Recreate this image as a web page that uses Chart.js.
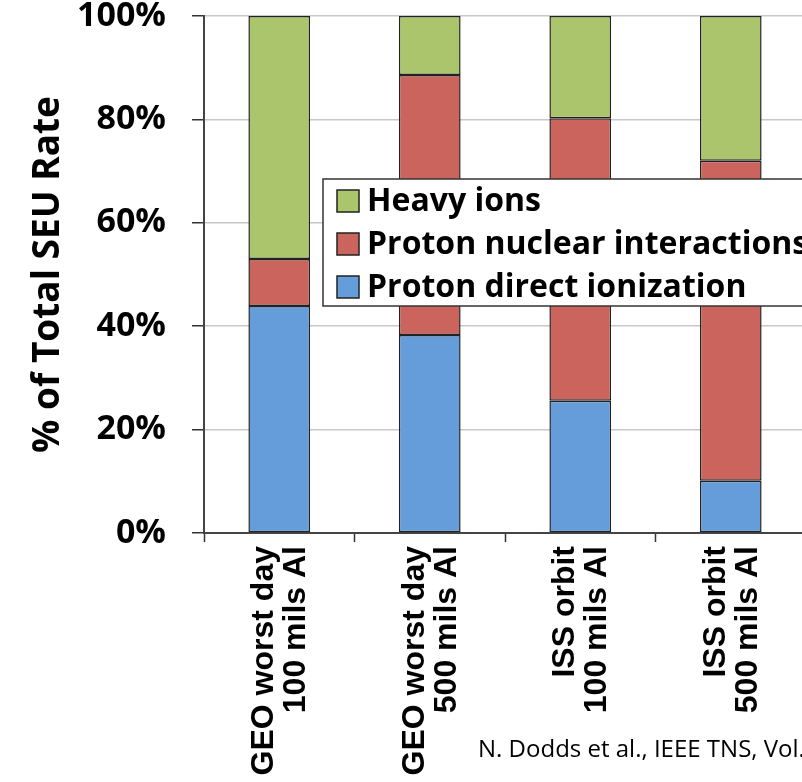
<!DOCTYPE html>
<html>
<head>
<meta charset="utf-8">
<script src="https://cdn.jsdelivr.net/npm/chart.js@4"></script>
<style>
  html, body { margin: 0; padding: 0; background: #ffffff; overflow: hidden; }
  #wrap { position: absolute; left: 0; top: 0; width: 806px; height: 782px; }
</style>
</head>
<body>
<div id="wrap"><canvas id="seu"></canvas></div>
<script>
// SEU rate breakdown by environment and shielding
const categories = [
  ['GEO worst day', '100 mils Al'],
  ['GEO worst day', '500 mils Al'],
  ['ISS orbit', '100 mils Al'],
  ['ISS orbit', '500 mils Al']
];
const protonDirect  = [43.9, 38.3, 25.6, 10.1];
const protonNuclear = [9.1, 50.3, 54.6, 61.9];
const heavyIons     = [47.0, 11.4, 19.8, 28.0];
const yTicks = [0, 20, 40, 60, 80, 100];

const seriesNames = ['Proton direct ionization', 'Proton nuclear interactions', 'Heavy ions'];
const seriesColors = ['#659ddb', '#cc645e', '#abc56c'];
const credit = 'N. Dodds et al., IEEE TNS, Vol.';

const TEXT_FONT = '"Open Sans", "DejaVu Sans", sans-serif';
const LABEL_FONT = '"Liberation Sans", Arial, sans-serif';

// Legend box drawn over the bars, top entry first
const boxLegend = {
  id: 'boxLegend',
  afterDatasetsDraw(chart) {
    const ctx = chart.ctx;
    const x0 = 323, y0 = 179, w = 500, h = 127;
    ctx.save();
    ctx.fillStyle = '#ffffff';
    ctx.fillRect(x0, y0, w, h);
    ctx.strokeStyle = '#333333';
    ctx.lineWidth = 1.5;
    ctx.strokeRect(x0, y0, w, h);
    ctx.font = 'bold 32px ' + TEXT_FONT;
    ctx.textBaseline = 'middle';
    const ds = chart.data.datasets.slice().reverse();
    ds.forEach((d, i) => {
      const cy = 201 + i * 43;
      ctx.fillStyle = d.backgroundColor;
      ctx.fillRect(337, cy - 11, 22, 22);
      ctx.strokeStyle = '#222222';
      ctx.lineWidth = 1.5;
      ctx.strokeRect(337, cy - 11, 22, 22);
      ctx.fillStyle = '#000000';
      ctx.fillText(d.label, 367, cy + 1);
    });
    ctx.restore();
  },
  afterDraw(chart) {
    const ctx = chart.ctx;
    ctx.save();
    ctx.font = '24px ' + TEXT_FONT;
    ctx.fillStyle = '#000000';
    ctx.textBaseline = 'middle';
    ctx.fillText(credit, 478, 750);
    ctx.restore();
  }
};

const datasets = [protonDirect, protonNuclear, heavyIons].map((vals, i) => ({
  label: seriesNames[i],
  data: vals,
  backgroundColor: seriesColors[i],
  borderColor: '#222222',
  borderWidth: 1.5,
  borderSkipped: false,
  barPercentage: 0.41,
  categoryPercentage: 1.0
}));

new Chart(document.getElementById('seu'), {
  type: 'bar',
  data: { labels: categories, datasets },
  plugins: [boxLegend],
  options: {
    responsive: true,
    maintainAspectRatio: false,
    animation: false,
    layout: { padding: { top: 16, right: 0, left: 0, bottom: 0 } },
    plugins: {
      legend: { display: false },
      tooltip: { enabled: false }
    },
    scales: {
      x: {
        stacked: true,
        afterFit(scale) {
          scale.height = 249;
          scale.paddingLeft = 0;
          scale.paddingRight = 0;
        },
        grid: {
          offset: true,
          drawOnChartArea: false,
          drawTicks: true,
          tickLength: 9,
          tickColor: '#333333',
          tickWidth: 1.5
        },
        border: { color: '#444444', width: 2 },
        ticks: {
          color: '#000000',
          font: { family: LABEL_FONT, size: 32, weight: 'bold', lineHeight: 1.0 },
          maxRotation: 90,
          minRotation: 90,
          padding: 4,
          labelOffset: -15,
          autoSkip: false
        }
      },
      y: {
        stacked: true,
        min: 0,
        max: 100,
        afterFit(scale) {
          scale.width = 204;
          scale.paddingTop = 0;
          scale.paddingBottom = 0;
        },
        afterBuildTicks(scale) { scale.ticks = yTicks.map(v => ({ value: v })); },
        grid: {
          color: '#c8c8c8',
          lineWidth: 1.5,
          tickColor: '#333333',
          tickLength: 12,
          tickWidth: 1.5
        },
        border: { color: '#444444', width: 2 },
        title: {
          display: true,
          text: '% of Total SEU Rate',
          color: '#000000',
          font: { family: TEXT_FONT, size: 37, weight: 'bold' },
          padding: { top: 26, bottom: 10 }
        },
        ticks: {
          color: '#000000',
          font: { family: TEXT_FONT, size: 34, weight: 'bold' },
          padding: 26,
          callback: v => v + '%'
        }
      }
    }
  }
});
</script>
</body>
</html>
